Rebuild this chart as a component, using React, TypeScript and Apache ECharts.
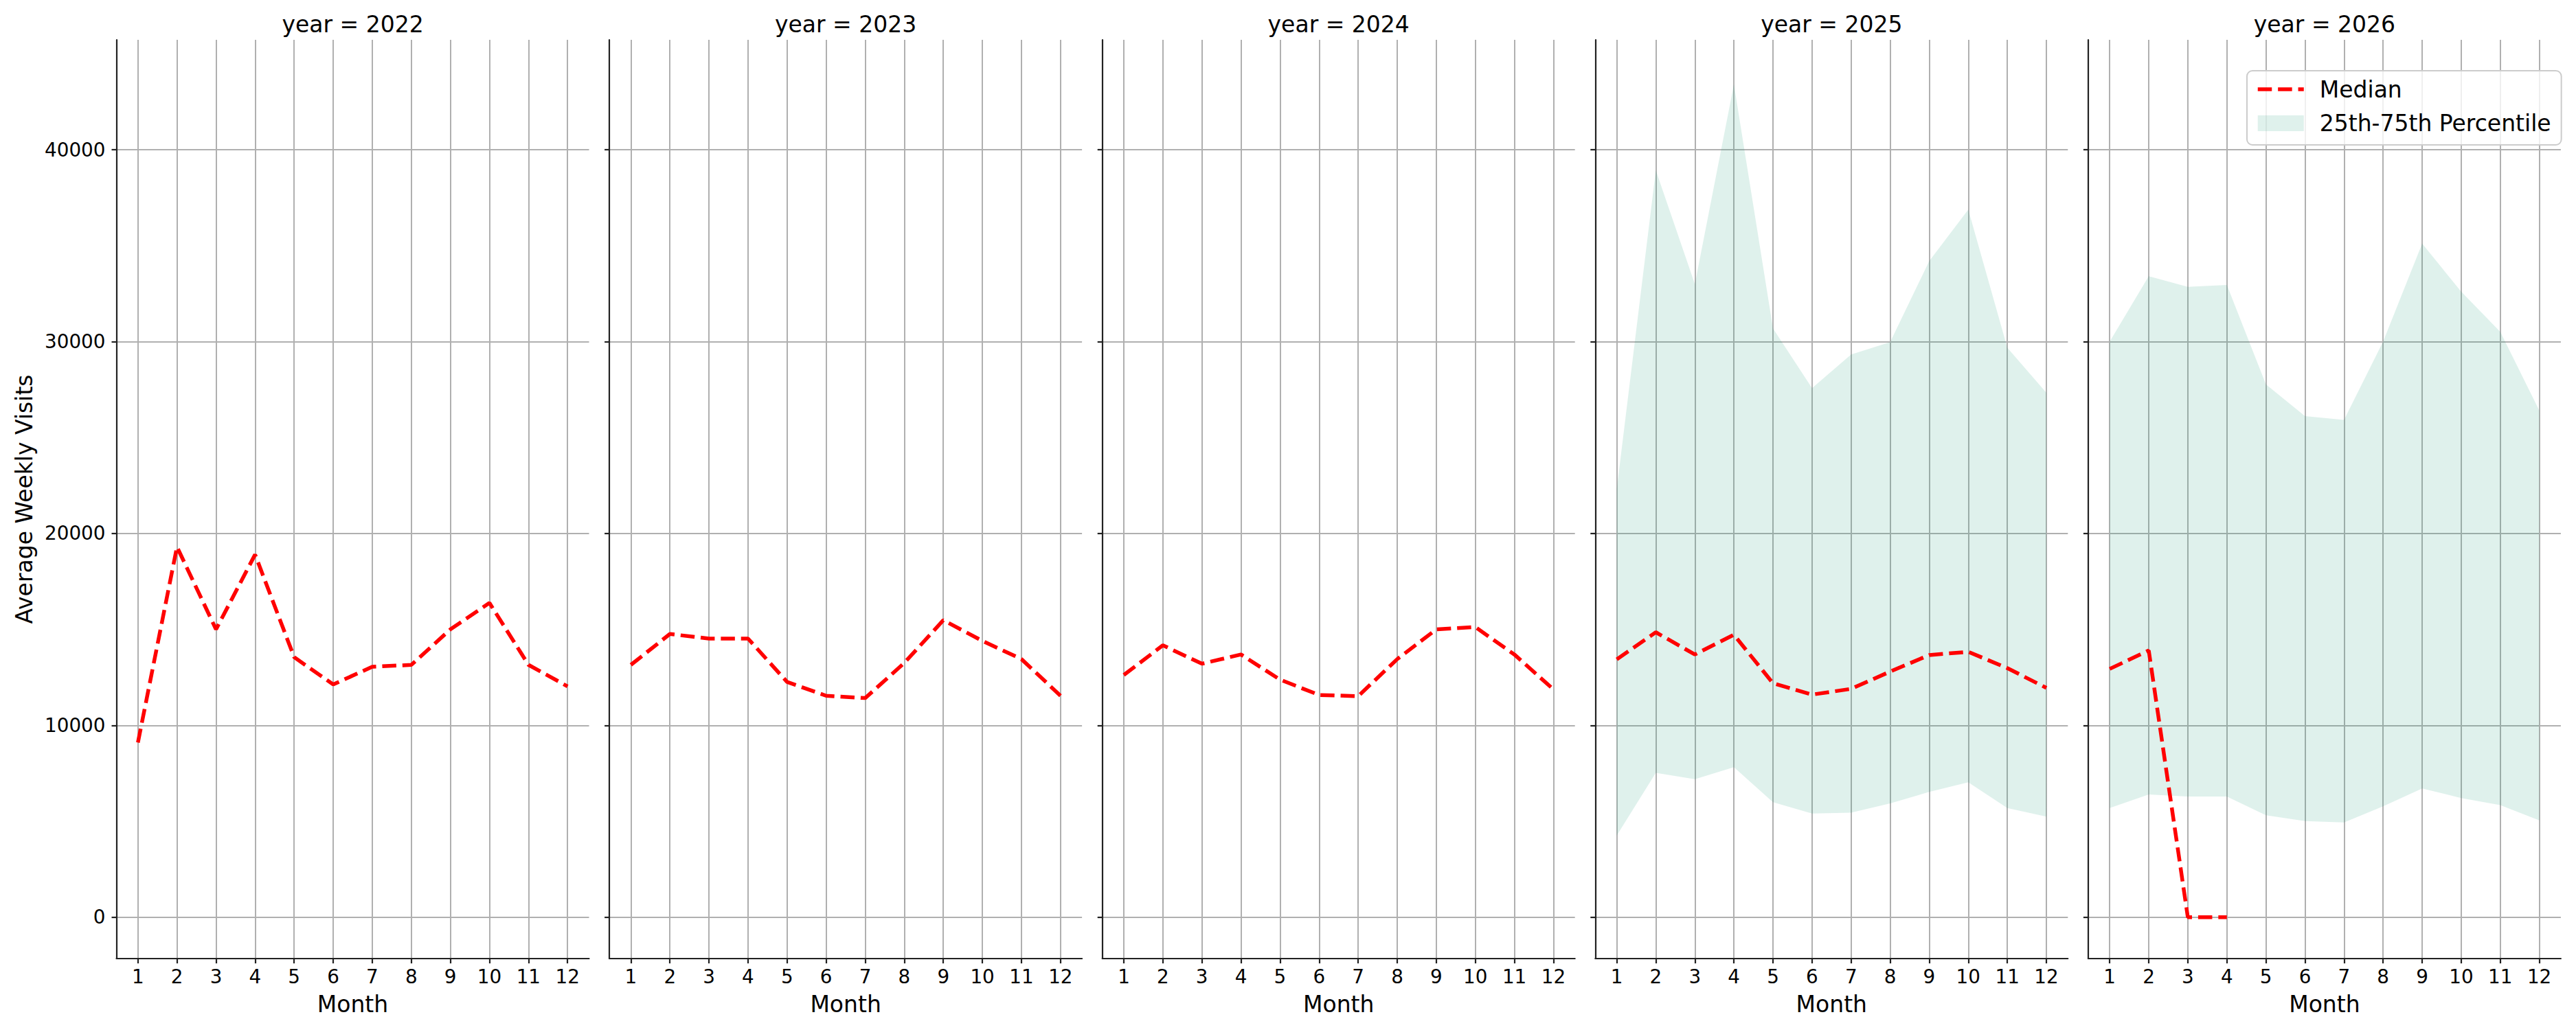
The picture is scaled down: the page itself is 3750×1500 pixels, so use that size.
import { useEffect, useRef } from "react";
import * as echarts from "echarts";

const years = [2022, 2023, 2024, 2025, 2026];
const months = [1, 2, 3, 4, 5, 6, 7, 8, 9, 10, 11, 12];
const yTicks = [0, 10000, 20000, 30000, 40000];

const median2022 = [9100, 19300, 15000, 18900, 13550, 12130, 13050, 13150, 15000, 16380, 13150, 12030];
const median2023 = [13150, 14760, 14520, 14520, 12260, 11540, 11420, 13250, 15480, 14400, 13450, 11540];
const median2024 = [12620, 14170, 13210, 13690, 12380, 11580, 11520, 13450, 15000, 15120, 13690, 11870];
const median2025 = [13440, 14850, 13690, 14720, 12190, 11600, 11900, 12800, 13660, 13830, 12980, 11950];
const median2026 = [12940, 13900, 0, 0];

const upper2025 = [22300, 38930, 33000, 43410, 30690, 27570, 29330, 29970, 34200, 36880, 29680, 27330];
const lower2025 = [4260, 7520, 7190, 7820, 5990, 5400, 5450, 5930, 6530, 7030, 5690, 5240];
const upper2026 = [30000, 33410, 32850, 32950, 27770, 26120, 25920, 30000, 35110, 32600, 30510, 26400];
const lower2026 = [5690, 6390, 6290, 6290, 5310, 5010, 4940, 5780, 6710, 6210, 5840, 5040];

const medians = [median2022, median2023, median2024, median2025, median2026];
const bands: Record<number, [number[], number[]]> = {
  2025: [lower2025, upper2025],
  2026: [lower2026, upper2026],
};

const FONT = "DejaVu Sans";
const BAND = "rgba(27,158,119,0.14)";
const AXIS = "#222";
const GRID = "#b0b0b0";

// panel geometry (px)
const LEFT0 = 169.5;
const STEP = 717.6;
const W = 688;
const TOP = 58;
const H = 1338;

export default function App() {
  const ref = useRef<HTMLDivElement>(null);

  useEffect(() => {
    const chart = echarts.init(ref.current, null, { renderer: "svg" });

    const grid = years.map((_, i) => ({ left: LEFT0 + i * STEP, top: TOP, width: W, height: H }));

    const xAxis = years.map((_, i) => ({
      type: "value",
      gridIndex: i,
      min: 0.45,
      max: 12.55,
      name: "Month",
      nameLocation: "middle",
      nameGap: 50,
      nameTextStyle: { fontSize: 33, color: "#000", fontFamily: FONT },
      axisLine: { show: true, onZero: false, lineStyle: { color: AXIS, width: 2.2 } },
      axisTick: { show: true, length: 7, customValues: months, lineStyle: { color: AXIS, width: 2.2 } },
      axisLabel: { customValues: months, fontSize: 27.8, color: "#000", margin: 12, fontFamily: FONT },
      splitLine: { show: true, lineStyle: { color: GRID, width: 2 } },
    }));

    const yAxis = years.map((_, i) => ({
      type: "value",
      gridIndex: i,
      min: -2160,
      max: 45730,
      name: i === 0 ? "Average Weekly Visits" : "",
      nameLocation: "middle",
      nameRotate: 90,
      nameGap: 118,
      nameTextStyle: { fontSize: 33, color: "#000", fontFamily: FONT },
      axisLine: { show: true, onZero: false, lineStyle: { color: AXIS, width: 2.2 } },
      axisTick: { show: true, length: 7, customValues: yTicks, lineStyle: { color: AXIS, width: 2.2 } },
      axisLabel: {
        show: i === 0,
        customValues: yTicks,
        formatter: (v: number) => String(v),
        fontSize: 27.8,
        color: "#000",
        margin: 16,
        fontFamily: FONT,
      },
      splitLine: { show: true, lineStyle: { color: GRID, width: 2 } },
    }));

    const series: any[] = [];
    years.forEach((year, i) => {
      const band = bands[year];
      if (band) {
        const [lo, hi] = band;
        series.push({
          type: "custom",
          name: "25th-75th Percentile",
          coordinateSystem: "cartesian2d",
          xAxisIndex: i,
          yAxisIndex: i,
          silent: true,
          itemStyle: { color: BAND },
          encode: { x: 0, y: [1, 2] },
          data: lo.map((v, k) => [months[k], v, hi[k]]),
          renderItem: (params: any, api: any) => {
            if (params.dataIndex !== 0) return null;
            const top = hi.map((v, k) => api.coord([months[k], v]));
            const bottom = lo.map((v, k) => api.coord([months[k], v])).reverse();
            return {
              type: "polygon",
              shape: { points: top.concat(bottom) },
              style: { fill: BAND },
            };
          },
          z: 1,
        });
      }
      series.push({
        type: "line",
        name: "Median",
        xAxisIndex: i,
        yAxisIndex: i,
        symbol: "none",
        color: "#ff0000",
        lineStyle: { color: "#ff0000", width: 5.5, type: [20.5, 8.9] },
        data: medians[i].map((v, k) => [months[k], v]),
        z: 5,
      });
    });

    const graphic = years.map((year, i) => ({
      type: "text",
      x: LEFT0 + i * STEP + W / 2,
      y: 19,
      style: {
        text: `year = ${year}`,
        fontSize: 33,
        fontFamily: FONT,
        fill: "#000",
        textAlign: "center",
        textVerticalAlign: "top",
      },
    }));

    chart.setOption({
      animation: false,
      backgroundColor: "#fff",
      grid,
      xAxis,
      yAxis,
      series,
      graphic,
      legend: {
        left: 3271,
        top: 103,
        orient: "vertical",
        data: [
          {
            name: "Median",
            lineStyle: { width: 5.5, type: [20.5, 8.9], color: "#ff0000" },
            itemStyle: { color: "rgba(0,0,0,0)", borderWidth: 0 },
          },
          { name: "25th-75th Percentile", icon: "rect", itemStyle: { color: BAND } },
        ],
        itemWidth: 67,
        itemHeight: 23,
        itemGap: 16.5,
        padding: [10.5, 15, 15, 13],
        backgroundColor: "rgba(255,255,255,0.8)",
        borderColor: "#cccccc",
        borderWidth: 2,
        borderRadius: 8,
        textStyle: { fontSize: 33, color: "#000", fontFamily: FONT, padding: [0, 0, 0, 18] },
      },
    });

    return () => {
      chart.dispose();
    };
  }, []);

  return (
    <div
      ref={ref}
      style={{ position: "fixed", left: 0, top: 0, width: "3750px", height: "1500px" }}
    />
  );
}
